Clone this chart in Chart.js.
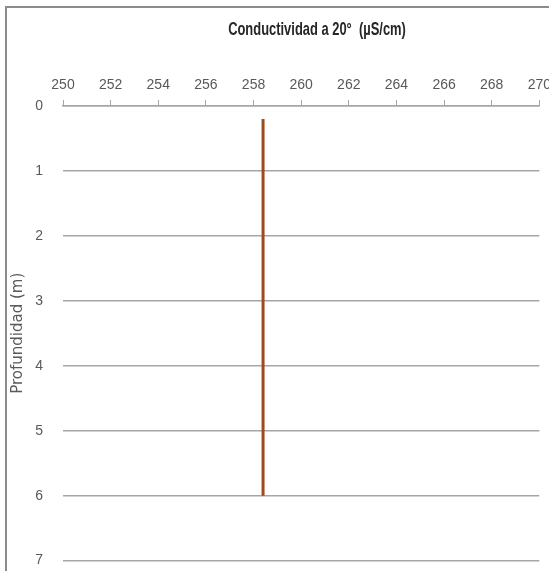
<!DOCTYPE html>
<html>
<head>
<meta charset="utf-8">
<script src="https://cdn.jsdelivr.net/npm/chart.js@4"></script>
<style>
    html, body { margin: 0; padding: 0; background: #ffffff; overflow: hidden; width: 549px; height: 571px; }
    #frame {
        position: absolute; left: 5px; top: 6px; width: 620px; height: 620px;
        border-left: 2px solid #8c8c8c; border-top: 2px solid #8c8c8c;
    }
    #wrap { position: absolute; left: 0; top: 0; width: 557px; height: 589px; }
    #title {
        position: absolute; left: 317px; top: 29px;
        transform: translate(-50%, -50%) scaleX(0.68);
        white-space: pre;
        font: bold 19px "Liberation Sans", Arial, sans-serif;
        color: #262626;
    }
</style>
</head>
<body>
<div id="frame"></div>
<div id="wrap"><canvas id="profileChart"></canvas></div>
<div id="title"></div>
<script>
// Data
const depths = [0.2, 1, 2, 3, 4, 5, 6];
const conductivity = [258.4, 258.4, 258.4, 258.4, 258.4, 258.4, 258.4];
const xTitle = 'Conductividad a 20°  (µS/cm)';
const yTitle = 'Profundidad (m)';

const tickFont = '"Liberation Sans", Arial, sans-serif';

document.getElementById('title').textContent = xTitle;

const points = depths.map((d, i) => ({ x: conductivity[i], y: d }));

new Chart(document.getElementById('profileChart'), {
    type: 'scatter',
    data: {
        datasets: [{
            data: points,
            showLine: true,
            borderColor: '#9e4a1f',
            borderWidth: 3,
            pointRadius: 0,
            fill: false
        }]
    },
    options: {
        responsive: true,
        maintainAspectRatio: false,
        animation: false,
        layout: { padding: { left: 0, top: 10, right: 1, bottom: 0 } },
        plugins: { legend: { display: false }, tooltip: { enabled: false } },
        scales: {
            x: {
                position: 'top',
                min: 250,
                max: 270,
                ticks: {
                    stepSize: 2,
                    padding: 6,
                    color: '#595959',
                    maxRotation: 0,
                    font: { family: tickFont, size: 14 }
                },
                grid: {
                    display: true,
                    drawOnChartArea: false,
                    drawTicks: true,
                    tickLength: 6,
                    color: '#a6a6a6',
                    lineWidth: 1
                },
                border: { display: true, color: '#a6a6a6', width: 1.5 },
                title: { display: false },
                afterFit: (scale) => { scale.height = 96; }
            },
            y: {
                reverse: true,
                min: 0,
                max: 7,
                ticks: {
                    stepSize: 1,
                    padding: 20,
                    color: '#595959',
                    font: { family: tickFont, size: 14 }
                },
                grid: {
                    display: true,
                    drawTicks: false,
                    color: '#a6a6a6',
                    lineWidth: 1.5
                },
                border: { display: false },
                title: {
                    display: true,
                    text: yTitle,
                    color: '#595959',
                    padding: { top: 9, bottom: 0 },
                    font: { family: '"DejaVu Sans", sans-serif', size: 15 }
                },
                afterFit: (scale) => { scale.width = 63; }
            }
        }
    }
});
</script>
</body>
</html>
